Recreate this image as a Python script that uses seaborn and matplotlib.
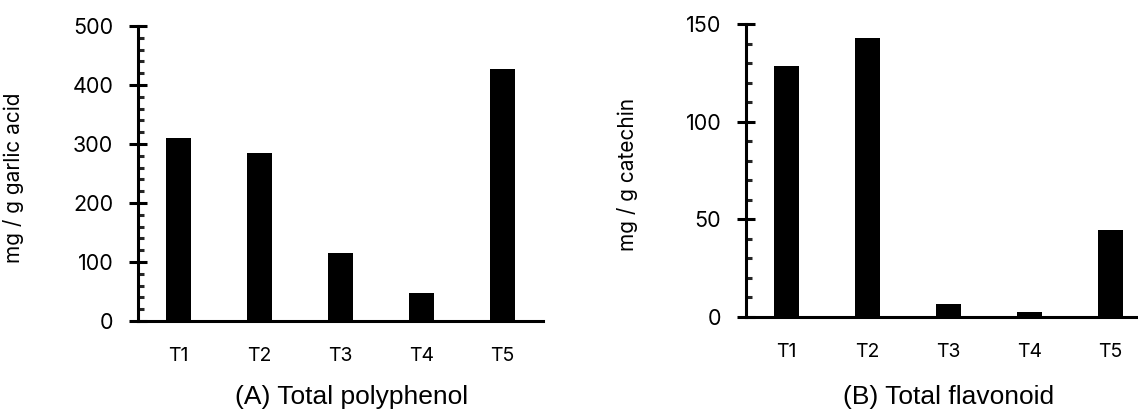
import matplotlib
matplotlib.use("Agg")
import matplotlib.pyplot as plt
from matplotlib.ticker import MultipleLocator
import seaborn as sns

categories = ["T1", "T2", "T3", "T4", "T5"]
polyphenol = [310, 285, 116, 47, 427]
flavonoid = [128.6, 142.7, 6.8, 2.8, 44.7]

sns.set_style("ticks")
plt.rcParams["font.family"] = ["Inter", "DejaVu Sans"]

W, H = 1138, 409
fig = plt.figure(figsize=(W / 100, H / 100), dpi=100)

def px_axes(left, right, top, bottom):
    return fig.add_axes([left / W, (H - bottom) / H, (right - left) / W, (bottom - top) / H])

axA = px_axes(138, 543, 26, 321)
axB = px_axes(746, 1151, 24, 317)

panels = [
    (axA, polyphenol, 500, 100, 20, "mg / g garlic acid", "(A) Total polyphenol", 352),
    (axB, flavonoid, 150, 50, 10, "mg / g catechin", "(B) Total flavonoid", 949),
]

for ax, vals, ymax, major, minor, ylab, title, tx in panels:
    sns.barplot(x=categories, y=vals, color="black", width=0.32, ax=ax,
                edgecolor="black", linewidth=0, saturation=1)
    ax.set_xlim(-0.5, 4.5)
    ax.set_ylim(0, ymax)
    ax.yaxis.set_major_locator(MultipleLocator(major))
    ax.yaxis.set_minor_locator(MultipleLocator(minor))
    for s in ["top", "right"]:
        ax.spines[s].set_visible(False)
    for s in ["left", "bottom"]:
        ax.spines[s].set_linewidth(2.2)
        ax.spines[s].set_color("black")
    ax.tick_params(axis="y", which="major", direction="inout", length=12.5, width=2.2,
                   pad=11.5, labelsize=15.5, colors="black")
    ax.tick_params(axis="y", which="minor", direction="in", length=4.5, width=2.2)
    ax.tick_params(axis="x", which="both", length=0, pad=19, labelsize=14, colors="black")
    ax.set_xlabel("")
    ax.set_ylabel(ylab, fontsize=15, color="black")
    ax.yaxis.set_label_coords(-0.282 if ax is axA else -0.267, 0.487)
    fig.text(tx / W, (H - 404) / H, title, ha="center", va="baseline",
             fontsize=19, family=["Liberation Sans", "DejaVu Sans"], color="black")

fig.savefig("out.png", dpi=100)
